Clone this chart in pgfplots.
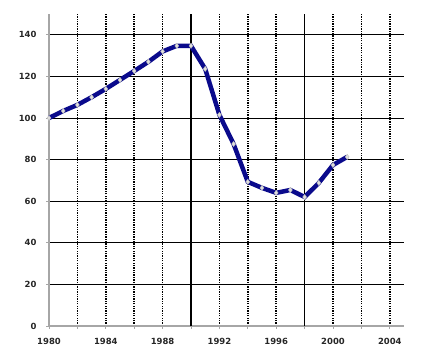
\documentclass[border=0pt]{standalone}
\usepackage{fontspec}
\setmainfont{DejaVu Sans}
\usepackage{pgfplots}
\pgfplotsset{compat=1.18}
\definecolor{navyline}{RGB}{10,10,140}
\begin{document}
\begin{tikzpicture}
\useasboundingbox (-49bp,-30bp) rectangle (379bp,326bp);
\begin{axis}[
  at={(0,0)}, anchor=south west,
  scale only axis,
  width=355bp, height=312bp,
  xmin=1980, xmax=2005,
  ymin=0, ymax=150,
  axis x line=bottom, axis y line=left,
  axis line style={-, gray!70, line width=1.8pt},
  xtick={1980,1982,...,2004},
  xticklabels={1980,,1984,,1988,,1992,,1996,,2000,,2004},
  ytick={0,20,...,140},
  tick align=outside,
  major tick length=3pt,
  tick style={gray!70, line width=0.8pt},
  /pgf/number format/assume math mode=true,
  ticklabel style={font=\fontsize{8.5}{10}\selectfont\bfseries, text=black!85},
  xticklabel style={yshift=-6pt},
  yticklabel style={xshift=-6pt},
  grid=major,
  x grid style={black, dash pattern=on 1.3pt off 1.1pt, line width=1.8pt},
  y grid style={black, line width=0.8pt},
  extra x ticks={1990,1998},
  extra x tick labels={},
  extra x tick style={grid=major, major tick length=0pt,
    /pgfplots/every axis x grid/.style={black, solid, line width=1.6pt}},
  clip=false,
]
\addplot[color=navyline, line width=4.5pt,
  mark=diamond*, mark size=2.6pt,
  mark options={fill=gray!25, draw=gray!55, line width=0.4pt}]
coordinates {
(1980,100)(1981,103.4)(1982,106.3)(1983,110)(1984,114)(1985,118.3)
(1986,122.6)(1987,127)(1988,132)(1989,134.7)(1990,134.7)(1991,123.6)
(1992,101.5)(1993,87.5)(1994,69.3)(1995,66.4)(1996,64)(1997,65.4)
(1998,62)(1999,68.8)(2000,77.4)(2001,81.3)
};
\end{axis}
\end{tikzpicture}
\end{document}
